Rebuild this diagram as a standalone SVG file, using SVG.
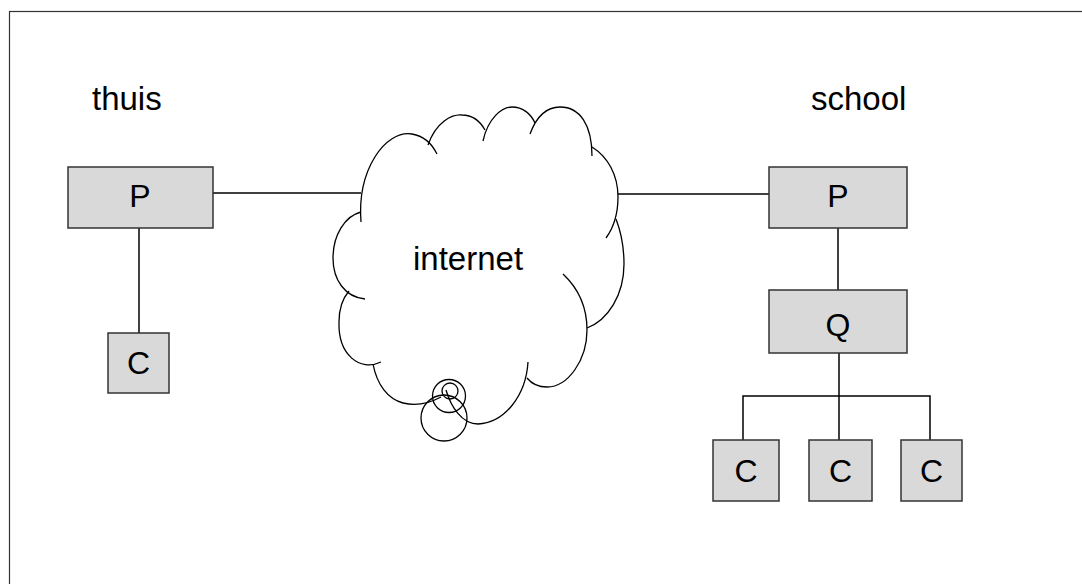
<svg xmlns="http://www.w3.org/2000/svg" width="1082" height="584" viewBox="0 0 1082 584">
<style>
.box{fill:#d9d9d9;stroke:#333;stroke-width:1.5}
.lbl{font-family:"Liberation Sans",Arial,sans-serif;font-size:32px;fill:#000;text-anchor:middle}
.txt{font-family:"Liberation Sans",Arial,sans-serif;font-size:33px;fill:#000}
.wire{stroke:#000;stroke-width:1.5;fill:none}
.cl{stroke:#000;stroke-width:1.3;fill:none}
</style>
<rect width="1082" height="584" fill="#fff"/>
<rect x="9.5" y="11.5" width="1100" height="600" fill="none" stroke="#333" stroke-width="1.2"/>
<text class="txt" x="92" y="110">thuis</text>
<text class="txt" x="811" y="110">school</text>
<g id="connectors">
<line class="wire" x1="213" y1="193" x2="361" y2="193"/>
<line class="wire" x1="618" y1="194" x2="769" y2="194"/>
<line class="wire" x1="139" y1="228" x2="139" y2="333"/>
<line class="wire" x1="838" y1="228" x2="838" y2="290"/>
<line class="wire" x1="839" y1="353" x2="839" y2="440"/>
<polyline class="wire" points="743,440 743,396 930,396 930,440"/>
</g>
<g id="cloud">
<path class="cl" d="M361,222 C357,170 385,130 412,134 C424,136 432,144 437,154"/>
<path class="cl" d="M428,145 C436,122 452,114 462,115 C472,115 480,121 485,130"/>
<path class="cl" d="M483,141 C488,118 502,107 512,107 C523,107 531,114 535,123"/>
<path class="cl" d="M530,134 C537,115 548,107 560,107 C580,107 592,125 592,156"/>
<path class="cl" d="M592,147 C608,157 618,175 618,197 C618,214 614,227 606,238"/>
<path class="cl" d="M616,219 C621,232 624,248 624,264 C624,295 608,320 587,328"/>
<path class="cl" d="M563,274 C578,288 587,306 587,330 C587,360 568,387 547,387 C538,387 531,383 527,378"/>
<path class="cl" d="M528,362 C526,395 505,423 478,424 C462,424 451,407 446,390"/>
<path class="cl" d="M441,397 C428,404 415,406 403,403 C388,399 377,385 373,364"/>
<path class="cl" d="M381,362 C360,372 338,355 339,322 C339,308 343,298 349,291"/>
<path class="cl" d="M365,299 C345,297 333,280 333,258 C333,235 345,216 361,212"/>
<circle class="cl" cx="444" cy="418" r="23"/>
<circle class="cl" cx="449" cy="396" r="16.5"/>
<circle class="cl" cx="450" cy="391" r="8"/>
<text class="txt" x="413" y="270">internet</text>
</g>
<g id="home-P"><rect class="box" x="68" y="167" width="145" height="61"/><text class="lbl" x="140" y="207">P</text></g>
<g id="home-C"><rect class="box" x="108" y="333" width="61" height="60"/><text class="lbl" x="138.5" y="374">C</text></g>
<g id="school-P"><rect class="box" x="769" y="167" width="138" height="61"/><text class="lbl" x="838" y="207">P</text></g>
<g id="school-Q"><rect class="box" x="769" y="290" width="138" height="63"/><text class="lbl" x="838" y="336">Q</text></g>
<g id="school-C1"><rect class="box" x="713" y="440" width="66" height="61"/><text class="lbl" x="746" y="482">C</text></g>
<g id="school-C2"><rect class="box" x="809" y="440" width="63" height="61"/><text class="lbl" x="840.5" y="482">C</text></g>
<g id="school-C3"><rect class="box" x="901" y="440" width="61" height="61"/><text class="lbl" x="931.5" y="482">C</text></g>
</svg>
